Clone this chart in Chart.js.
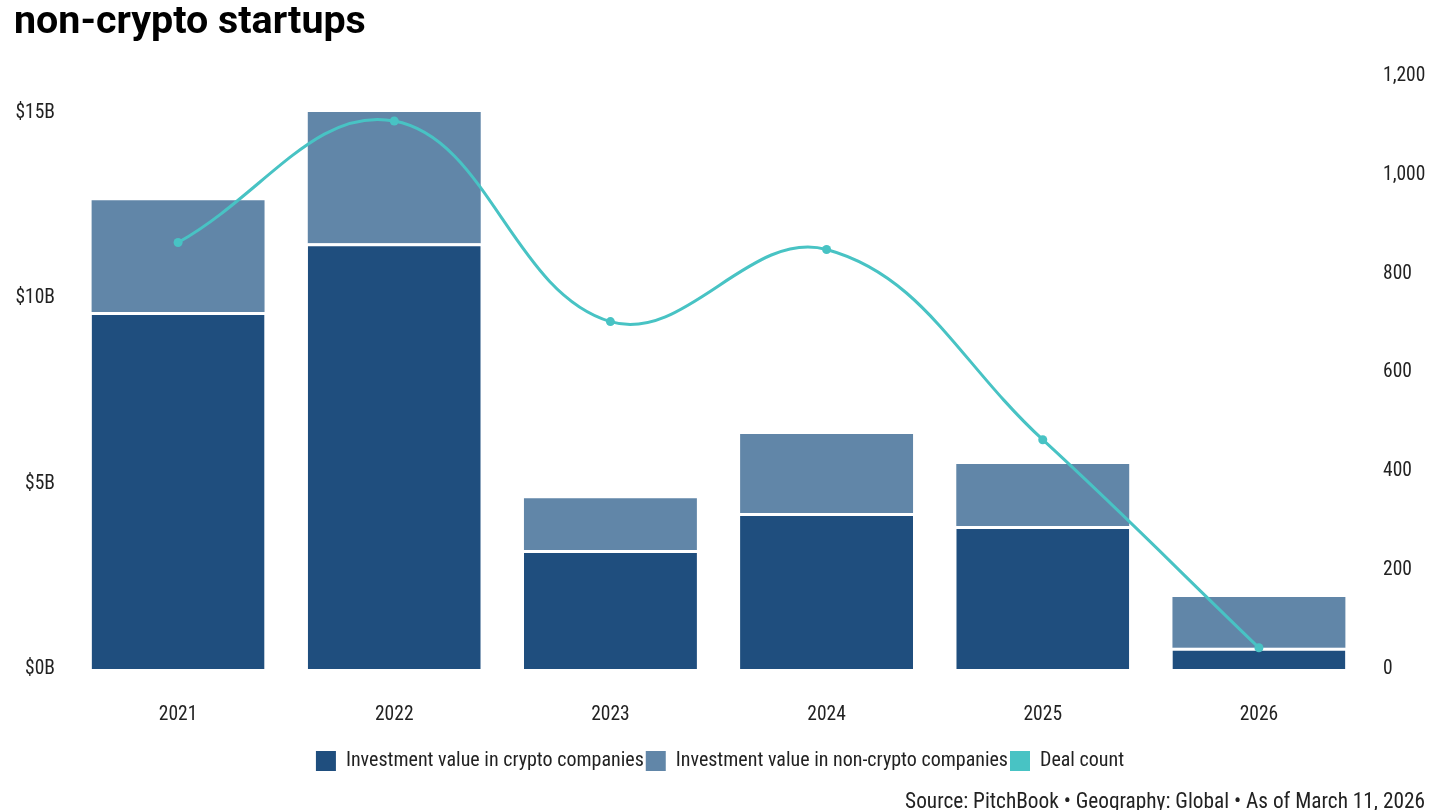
<!DOCTYPE html>
<html>
<head>
<meta charset="utf-8">
<script src="https://cdn.jsdelivr.net/npm/chart.js@4"></script>
<style>
  html, body { margin: 0; padding: 0; background: #ffffff; }
  body { width: 1440px; height: 810px; position: relative; overflow: hidden; }
  #wrap { position: absolute; left: 0; top: 0; width: 1440px; height: 810px; }
  #title { position: absolute; left: 14px; top: -2px; font-family: Roboto, sans-serif; font-weight: 700; font-size: 39.4px; color: #000; line-height: 44px; white-space: nowrap; }
  #source { position: absolute; right: 15px; top: 788px; font-family: 'Roboto Condensed', 'Liberation Sans Narrow', Roboto, sans-serif; font-size: 21.3px; color: #222; line-height: 25px; white-space: nowrap; }
</style>
</head>
<body>
<div id="wrap"><canvas id="c" width="1440" height="810"></canvas></div>
<div id="title">non-crypto startups</div>
<div id="source">Source: PitchBook • Geography: Global • As of March 11, 2026</div>
<script>
const categories = ['2021', '2022', '2023', '2024', '2025', '2026'];
const cryptoValues = [9.63, 11.49, 3.21, 4.21, 3.86, 0.57];      // $B
const nonCryptoValues = [3.02, 3.54, 1.40, 2.13, 1.67, 1.37];    // $B
const dealCounts = [863, 1109, 703, 849, 464, 43];
const leftTicks = [0, 5, 10, 15];
const rightTicks = [0, 200, 400, 600, 800, 1000, 1200];

const FONT = "'Roboto Condensed', 'Liberation Sans Narrow', Roboto, sans-serif";

new Chart(document.getElementById('c'), {
  data: {
    labels: categories,
    datasets: [
      {
        type: 'bar', label: 'Investment value in crypto companies', data: cryptoValues,
        backgroundColor: '#1f4e7e', borderColor: '#ffffff',
        borderWidth: { top: 3, left: 0, right: 0, bottom: 0 }, borderSkipped: false,
        stack: 'inv', yAxisID: 'y', order: 2,
        categoryPercentage: 0.8, barPercentage: 1.0
      },
      {
        type: 'bar', label: 'Investment value in non-crypto companies', data: nonCryptoValues,
        backgroundColor: '#6186a8', borderWidth: 0,
        stack: 'inv', yAxisID: 'y', order: 2,
        categoryPercentage: 0.8, barPercentage: 1.0
      },
      {
        type: 'line', label: 'Deal count', data: dealCounts,
        borderColor: '#48c3c4', backgroundColor: '#48c3c4',
        borderWidth: 3, pointRadius: 4.5, pointBackgroundColor: '#48c3c4', pointBorderWidth: 0,
        tension: 0.4, yAxisID: 'y1', order: 0
      }
    ]
  },
  options: {
    responsive: false,
    animation: false,
    layout: { padding: { top: 76, bottom: 29, left: 0, right: 0 } },
    plugins: {
      legend: {
        position: 'bottom',
        labels: {
          boxWidth: 20, boxHeight: 20, padding: 2,
          color: '#222', font: { family: FONT, size: 20 },
          generateLabels: (chart) => chart.data.datasets.map((ds, i) => ({
            text: ds.label, fillStyle: ds.backgroundColor, strokeStyle: ds.backgroundColor,
            lineWidth: 0, hidden: false, datasetIndex: i, fontColor: '#222'
          }))
        }
      },
      tooltip: { enabled: false }
    },
    scales: {
      x: {
        stacked: true,
        grid: { display: false, drawTicks: false },
        border: { display: false },
        ticks: { color: '#222', font: { family: FONT, size: 19.5 }, padding: 34 },
        afterFit: (s) => { s.height = 80; }
      },
      y: {
        position: 'left', stacked: true, min: 0, max: 16,
        grid: { display: false, drawTicks: false },
        border: { display: false },
        afterBuildTicks: (s) => { s.ticks = leftTicks.map(v => ({ value: v })); },
        ticks: { color: '#222', font: { family: FONT, size: 19.5 }, padding: 15,
          callback: (v) => '$' + v + 'B' },
        afterFit: (s) => { s.width = 70; }
      },
      y1: {
        position: 'right', min: 0, max: 1200,
        grid: { display: false, drawTicks: false },
        border: { display: false },
        afterBuildTicks: (s) => { s.ticks = rightTicks.map(v => ({ value: v })); },
        ticks: { color: '#222', font: { family: FONT, size: 19.5 }, padding: 16,
          callback: (v) => v.toLocaleString('en-US') },
        afterFit: (s) => { s.width = 73; }
      }
    }
  }
});
</script>
</body>
</html>
